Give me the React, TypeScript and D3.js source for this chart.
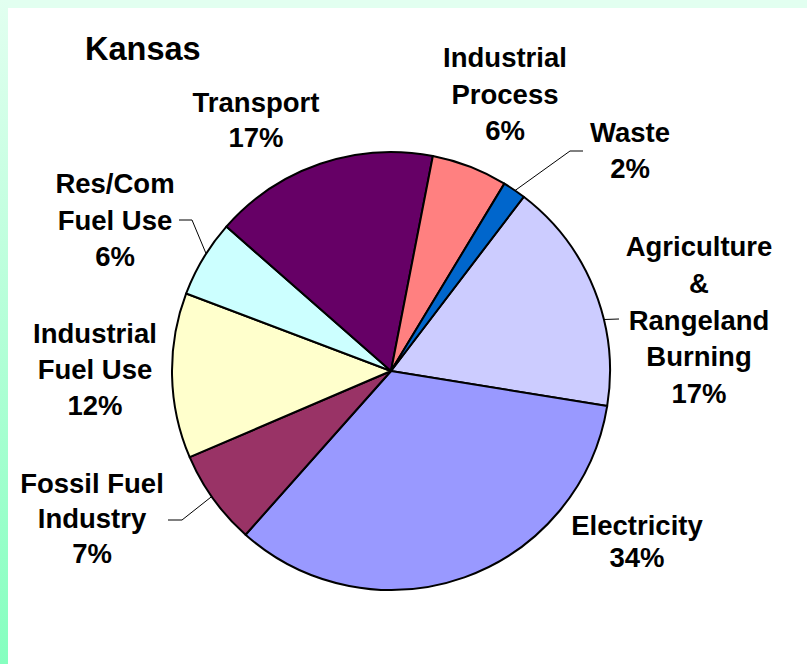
import React, { useEffect, useRef } from 'react';
import * as d3 from 'd3';

// sector order, clockwise from the Agriculture edge
const sectors = [
  'Agriculture & Rangeland Burning',
  'Electricity',
  'Fossil Fuel Industry',
  'Industrial Fuel Use',
  'Res/Com Fuel Use',
  'Transport',
  'Industrial Process',
  'Waste',
];
const shares = [17.2, 34.0, 7.0, 12.2, 5.7, 16.6, 5.6, 1.7];
const colors = ['#ccccff', '#9999ff', '#993366', '#ffffcc', '#ccffff', '#660066', '#ff8080', '#0066cc'];
const labelLines = [
  ['Agriculture', '&', 'Rangeland', 'Burning'],
  ['Electricity'],
  ['Fossil Fuel', 'Industry'],
  ['Industrial', 'Fuel Use'],
  ['Res/Com', 'Fuel Use'],
  ['Transport'],
  ['Industrial', 'Process'],
  ['Waste'],
];

// label layout: centre x, first baseline, line step
const labelPos = [
  { x: 699, y: 256, dy: 36.8 },
  { x: 637, y: 535, dy: 32 },
  { x: 92, y: 493, dy: 35 },
  { x: 95, y: 343, dy: 36 },
  { x: 115, y: 193, dy: 36.5 },
  { x: 256, y: 112, dy: 35 },
  { x: 505, y: 67, dy: 36.5 },
  { x: 630, y: 142, dy: 36 },
];

// leader lines: slice index, angle on rim (deg), elbow, end
const leaders = [
  { i: 7, a: 34.5, pts: [[570, 151], [583, 151]] },
  { i: 4, a: 302.4, pts: [[192, 220], [179, 220]] },
  { i: 2, a: 235, pts: [[182, 520], [168, 520]] },
  { i: 0, a: 76.4, pts: [[619, 319]] },
];

const startDeg = 37.3;

export default function App() {
  const svgRef = useRef<SVGSVGElement>(null);

  useEffect(() => {
    if (!svgRef.current) return;
    const width = 807;
    const height = 664;
    const svg = d3.select(svgRef.current).attr('width', width).attr('height', height);
    svg.selectAll('*').remove();

    const defs = svg.append('defs');
    const grad = defs.append('linearGradient').attr('id', 'sideGrad')
      .attr('x1', 0).attr('y1', 0).attr('x2', 0).attr('y2', 1);
    grad.append('stop').attr('offset', '0%').attr('stop-color', '#e2fff0');
    grad.append('stop').attr('offset', '100%').attr('stop-color', '#85ffbf');

    svg.append('rect').attr('width', width).attr('height', height).attr('fill', '#ffffff');
    svg.append('rect').attr('width', width).attr('height', 8).attr('fill', '#e2fff0');
    svg.append('rect').attr('width', 8).attr('height', height).attr('fill', 'url(#sideGrad)');

    const cx = 391;
    const cy = 371;
    const r = 219;
    const rad = (d: number) => (d * Math.PI) / 180;

    const pie = d3.pie<number>().sort(null).value(d => d)
      .startAngle(rad(startDeg)).endAngle(rad(startDeg) + 2 * Math.PI);
    const arc = d3.arc<d3.PieArcDatum<number>>().innerRadius(0).outerRadius(r);

    const g = svg.append('g').attr('transform', `translate(${cx},${cy})`);
    g.selectAll('path.slice')
      .data(pie(shares))
      .enter()
      .append('path')
      .attr('class', 'slice')
      .attr('d', arc)
      .attr('fill', (_, i) => colors[i])
      .attr('stroke', '#000')
      .attr('stroke-width', 2)
      .attr('stroke-linejoin', 'round');

    // leader lines
    leaders.forEach(l => {
      const a = rad(l.a);
      const p0: [number, number] = [cx + r * Math.sin(a), cy - r * Math.cos(a)];
      const pts = [p0, ...l.pts] as [number, number][];
      svg.append('path')
        .attr('d', d3.line()(pts))
        .attr('fill', 'none')
        .attr('stroke', '#000')
        .attr('stroke-width', 1);
    });

    const font = '"Liberation Sans", Arial, Helvetica, sans-serif';

    svg.append('text')
      .attr('x', 85).attr('y', 60)
      .attr('font-family', font).attr('font-weight', 'bold').attr('font-size', 32.5)
      .attr('fill', '#000')
      .text('Kansas');

    const total = d3.sum(shares);
    sectors.forEach((_, i) => {
      const pos = labelPos[i];
      const lines = [...labelLines[i], `${Math.round((shares[i] / total) * 100)}%`];
      const t = svg.append('text')
        .attr('font-family', font).attr('font-weight', 'bold').attr('font-size', 27.5)
        .attr('text-anchor', 'middle').attr('fill', '#000');
      lines.forEach((s, k) => {
        t.append('tspan').attr('x', pos.x).attr('y', pos.y + k * pos.dy).text(s);
      });
    });
  }, []);

  return (
    <div style={{ position: 'absolute', left: 0, top: 0 }}>
      <svg ref={svgRef} style={{ display: 'block' }} />
    </div>
  );
}
